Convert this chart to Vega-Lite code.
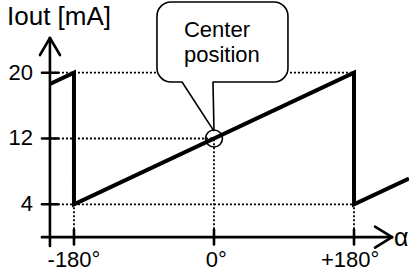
{
  "$schema": "https://vega.github.io/schema/vega-lite/v6.json",
  "width": 409,
  "height": 275,
  "autosize": "none",
  "padding": 0,
  "background": "white",
  "config": {"view": {"stroke": null}, "font": "Liberation Sans"},
  "layer": [
    {
      "data": {"values": [
        {"x1": -210.9, "x2": 180, "y1": 20, "y2": 20},
        {"x1": -210.9, "x2": 0, "y1": 12, "y2": 12},
        {"x1": -210.9, "x2": 180, "y1": 4, "y2": 4},
        {"x1": -180, "x2": -180, "y1": 0, "y2": 4},
        {"x1": 0, "x2": 0, "y1": 0, "y2": 12},
        {"x1": 180, "x2": 180, "y1": 0, "y2": 4}
      ]},
      "mark": {"type": "rule", "color": "black", "strokeWidth": 1.8, "strokeDash": [2, 2]},
      "encoding": {
        "x": {"field": "x1", "type": "quantitative", "axis": null, "scale": {"domain": [-275.1, 250.7], "nice": false, "zero": false}},
        "x2": {"field": "x2"},
        "y": {"field": "y1", "type": "quantitative", "axis": null, "scale": {"domain": [-4.6, 28.84], "nice": false, "zero": false}},
        "y2": {"field": "y2"}
      }
    },
    {
      "data": {"values": [{"x1": -73.3, "x2": 95.1, "y1": 18.87, "y2": 28.6}]},
      "mark": {"type": "rect", "fill": "white", "stroke": "black", "strokeWidth": 1.6, "cornerRadius": 14},
      "encoding": {
        "x": {"field": "x1", "type": "quantitative", "axis": null},
        "x2": {"field": "x2"},
        "y": {"field": "y1", "type": "quantitative", "axis": null},
        "y2": {"field": "y2"}
      }
    },
    {
      "data": {"values": [{"x1": -40.6, "x2": -1.9, "y1": 18.87, "y2": 18.87}]},
      "mark": {"type": "rule", "color": "white", "strokeWidth": 3},
      "encoding": {
        "x": {"field": "x1", "type": "quantitative", "axis": null},
        "x2": {"field": "x2"},
        "y": {"field": "y1", "type": "quantitative", "axis": null},
        "y2": {"field": "y2"}
      }
    },
    {
      "data": {"values": [
        {"x1": -41.1, "x2": 0, "y1": 18.87, "y2": 12.9},
        {"x1": -1.3, "x2": 0, "y1": 18.87, "y2": 12.9}
      ]},
      "mark": {"type": "rule", "color": "black", "strokeWidth": 1.6},
      "encoding": {
        "x": {"field": "x1", "type": "quantitative", "axis": null},
        "x2": {"field": "x2"},
        "y": {"field": "y1", "type": "quantitative", "axis": null},
        "y2": {"field": "y2"}
      }
    },
    {
      "data": {"values": [
        {"x1": -221.1, "x2": 228.9, "y1": 0, "y2": 0},
        {"x1": 207.0, "x2": 228.9, "y1": 1.27, "y2": 0},
        {"x1": 207.0, "x2": 228.9, "y1": -1.27, "y2": 0},
        {"x1": -210.9, "x2": -210.9, "y1": -1.07, "y2": 24.22},
        {"x1": -223.7, "x2": -210.9, "y1": 22.15, "y2": 24.22},
        {"x1": -198.0, "x2": -210.9, "y1": 22.15, "y2": 24.22},
        {"x1": -180, "x2": -180, "y1": -0.9, "y2": 0.9},
        {"x1": 0, "x2": 0, "y1": -0.9, "y2": 0.9},
        {"x1": 180, "x2": 180, "y1": -0.9, "y2": 0.9},
        {"x1": -221.1, "x2": -200.6, "y1": 4, "y2": 4},
        {"x1": -221.1, "x2": -200.6, "y1": 12, "y2": 12},
        {"x1": -221.1, "x2": -200.6, "y1": 20, "y2": 20}
      ]},
      "mark": {"type": "rule", "color": "black", "strokeWidth": 2.6, "strokeCap": "round"},
      "encoding": {
        "x": {"field": "x1", "type": "quantitative", "axis": null},
        "x2": {"field": "x2"},
        "y": {"field": "y1", "type": "quantitative", "axis": null},
        "y2": {"field": "y2"}
      }
    },
    {
      "data": {"values": [
        {"i": 0, "a": -210.9, "v": 18.62},
        {"i": 1, "a": -180, "v": 20},
        {"i": 2, "a": -180, "v": 4},
        {"i": 3, "a": 180, "v": 20},
        {"i": 4, "a": 180, "v": 4},
        {"i": 5, "a": 250.7, "v": 7.14}
      ]},
      "mark": {"type": "line", "color": "black", "strokeWidth": 4, "strokeJoin": "miter"},
      "encoding": {
        "x": {"field": "a", "type": "quantitative", "axis": null},
        "y": {"field": "v", "type": "quantitative", "axis": null},
        "order": {"field": "i"}
      }
    },
    {
      "data": {"values": [{"a": 0, "v": 12}]},
      "mark": {"type": "point", "shape": "circle", "filled": false, "stroke": "black", "strokeWidth": 1.6, "size": 289, "opacity": 1},
      "encoding": {
        "x": {"field": "a", "type": "quantitative", "axis": null},
        "y": {"field": "v", "type": "quantitative", "axis": null}
      }
    },
    {
      "data": {"values": [
        {"a": -232.7, "v": 20, "t": "20"},
        {"a": -232.7, "v": 12, "t": "12"},
        {"a": -232.7, "v": 4, "t": "4"}
      ]},
      "mark": {"type": "text", "align": "right", "baseline": "middle", "fontSize": 22, "color": "black"},
      "encoding": {
        "x": {"field": "a", "type": "quantitative", "axis": null},
        "y": {"field": "v", "type": "quantitative", "axis": null},
        "text": {"field": "t"}
      }
    },
    {
      "data": {"values": [
        {"a": -180, "v": -3.62, "t": "-180°"},
        {"a": 3, "v": -3.62, "t": "0°"},
        {"a": 175, "v": -3.62, "t": "+180°"}
      ]},
      "mark": {"type": "text", "align": "center", "baseline": "alphabetic", "fontSize": 22, "color": "black"},
      "encoding": {
        "x": {"field": "a", "type": "quantitative", "axis": null},
        "y": {"field": "v", "type": "quantitative", "axis": null},
        "text": {"field": "t"}
      }
    },
    {
      "data": {"values": [
        {"a": -38.6, "v": 24.34, "t": "Center"},
        {"a": -38.6, "v": 21.3, "t": "position"}
      ]},
      "mark": {"type": "text", "align": "left", "baseline": "alphabetic", "fontSize": 22, "color": "black"},
      "encoding": {
        "x": {"field": "a", "type": "quantitative", "axis": null},
        "y": {"field": "v", "type": "quantitative", "axis": null},
        "text": {"field": "t"}
      }
    },
    {
      "data": {"values": [{"a": -266.1, "v": 25.8, "t": "Iout [mA]"}]},
      "mark": {"type": "text", "align": "left", "baseline": "alphabetic", "fontSize": 26, "color": "black"},
      "encoding": {
        "x": {"field": "a", "type": "quantitative", "axis": null},
        "y": {"field": "v", "type": "quantitative", "axis": null},
        "text": {"field": "t"}
      }
    },
    {
      "data": {"values": [{"a": 231.4, "v": -1.1, "t": "α"}]},
      "mark": {"type": "text", "align": "left", "baseline": "alphabetic", "fontSize": 25, "color": "black"},
      "encoding": {
        "x": {"field": "a", "type": "quantitative", "axis": null},
        "y": {"field": "v", "type": "quantitative", "axis": null},
        "text": {"field": "t"}
      }
    }
  ]
}
